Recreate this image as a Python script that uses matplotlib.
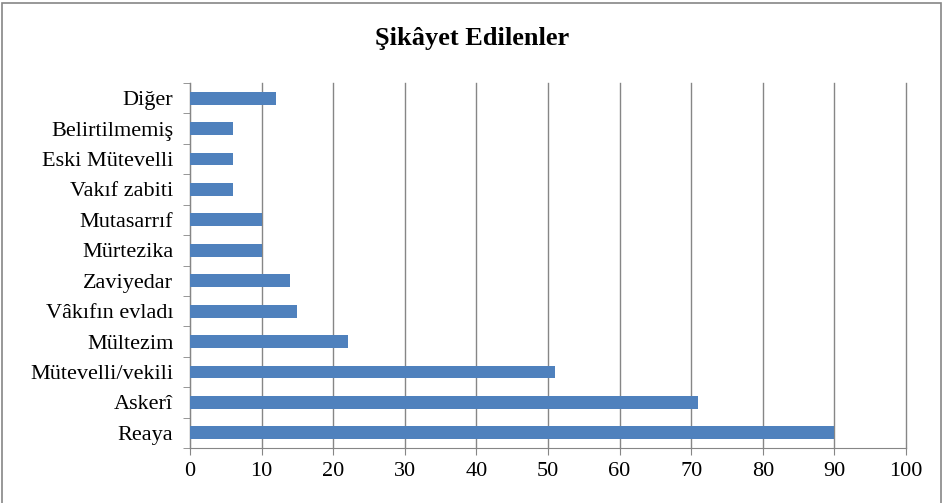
import numpy as np
import matplotlib.pyplot as plt
from matplotlib.patches import Rectangle

# categories, bottom to top
categories = ['Reaya', 'Askerî', 'Mütevelli/vekili', 'Mültezim', 'Vâkıfın evladı',
              'Zaviyedar', 'Mürtezika', 'Mutasarrıf', 'Vakıf zabiti',
              'Eski Mütevelli', 'Belirtilmemiş', 'Diğer']
values = [90, 71, 51, 22, 15, 14, 10, 10, 6, 6, 6, 12]
xticks = [0, 10, 20, 30, 40, 50, 60, 70, 80, 90, 100]

plt.rcParams['font.family'] = ['Liberation Serif', 'DejaVu Serif']

fig = plt.figure(figsize=(9.44, 5.03), dpi=100)
ax = fig.add_axes([190 / 944, 55 / 503, 716 / 944, 365 / 503])

y = np.arange(len(categories))
ax.barh(y, values, height=0.42, color='#4F81BD', zorder=3)

ax.set_xlim(0, 100)
ax.set_ylim(-0.5, len(categories) - 0.5)
ax.set_xticks(xticks)
ax.set_yticks(y)
ax.set_yticklabels(categories, fontsize=16)
ax.set_yticks(np.arange(-0.5, len(categories), 1), minor=True)
ax.tick_params(axis='y', which='major', length=0, pad=12)
ax.tick_params(axis='y', which='minor', length=5, color='#868686', direction='out')
ax.tick_params(axis='x', length=5, color='#868686', labelsize=16, pad=5)

ax.grid(axis='x', color='#868686', linewidth=1, zorder=0)
for line in ax.get_xgridlines():
    line.set_clip_on(False)
for s in ['top', 'right']:
    ax.spines[s].set_visible(False)
ax.spines['left'].set_color('#868686')
ax.spines['bottom'].set_color('#868686')

fig.text(0.5, 1 - 38 / 503, 'Şikâyet Edilenler', ha='center', va='center',
         fontsize=19, fontweight='bold')

# outer chart frame
fig.patches.append(Rectangle((0.002, -0.01), 0.995, 1.005, transform=fig.transFigure,
                             fill=False, edgecolor='#868686', linewidth=1.2))

fig.savefig('out.png', dpi=100)
